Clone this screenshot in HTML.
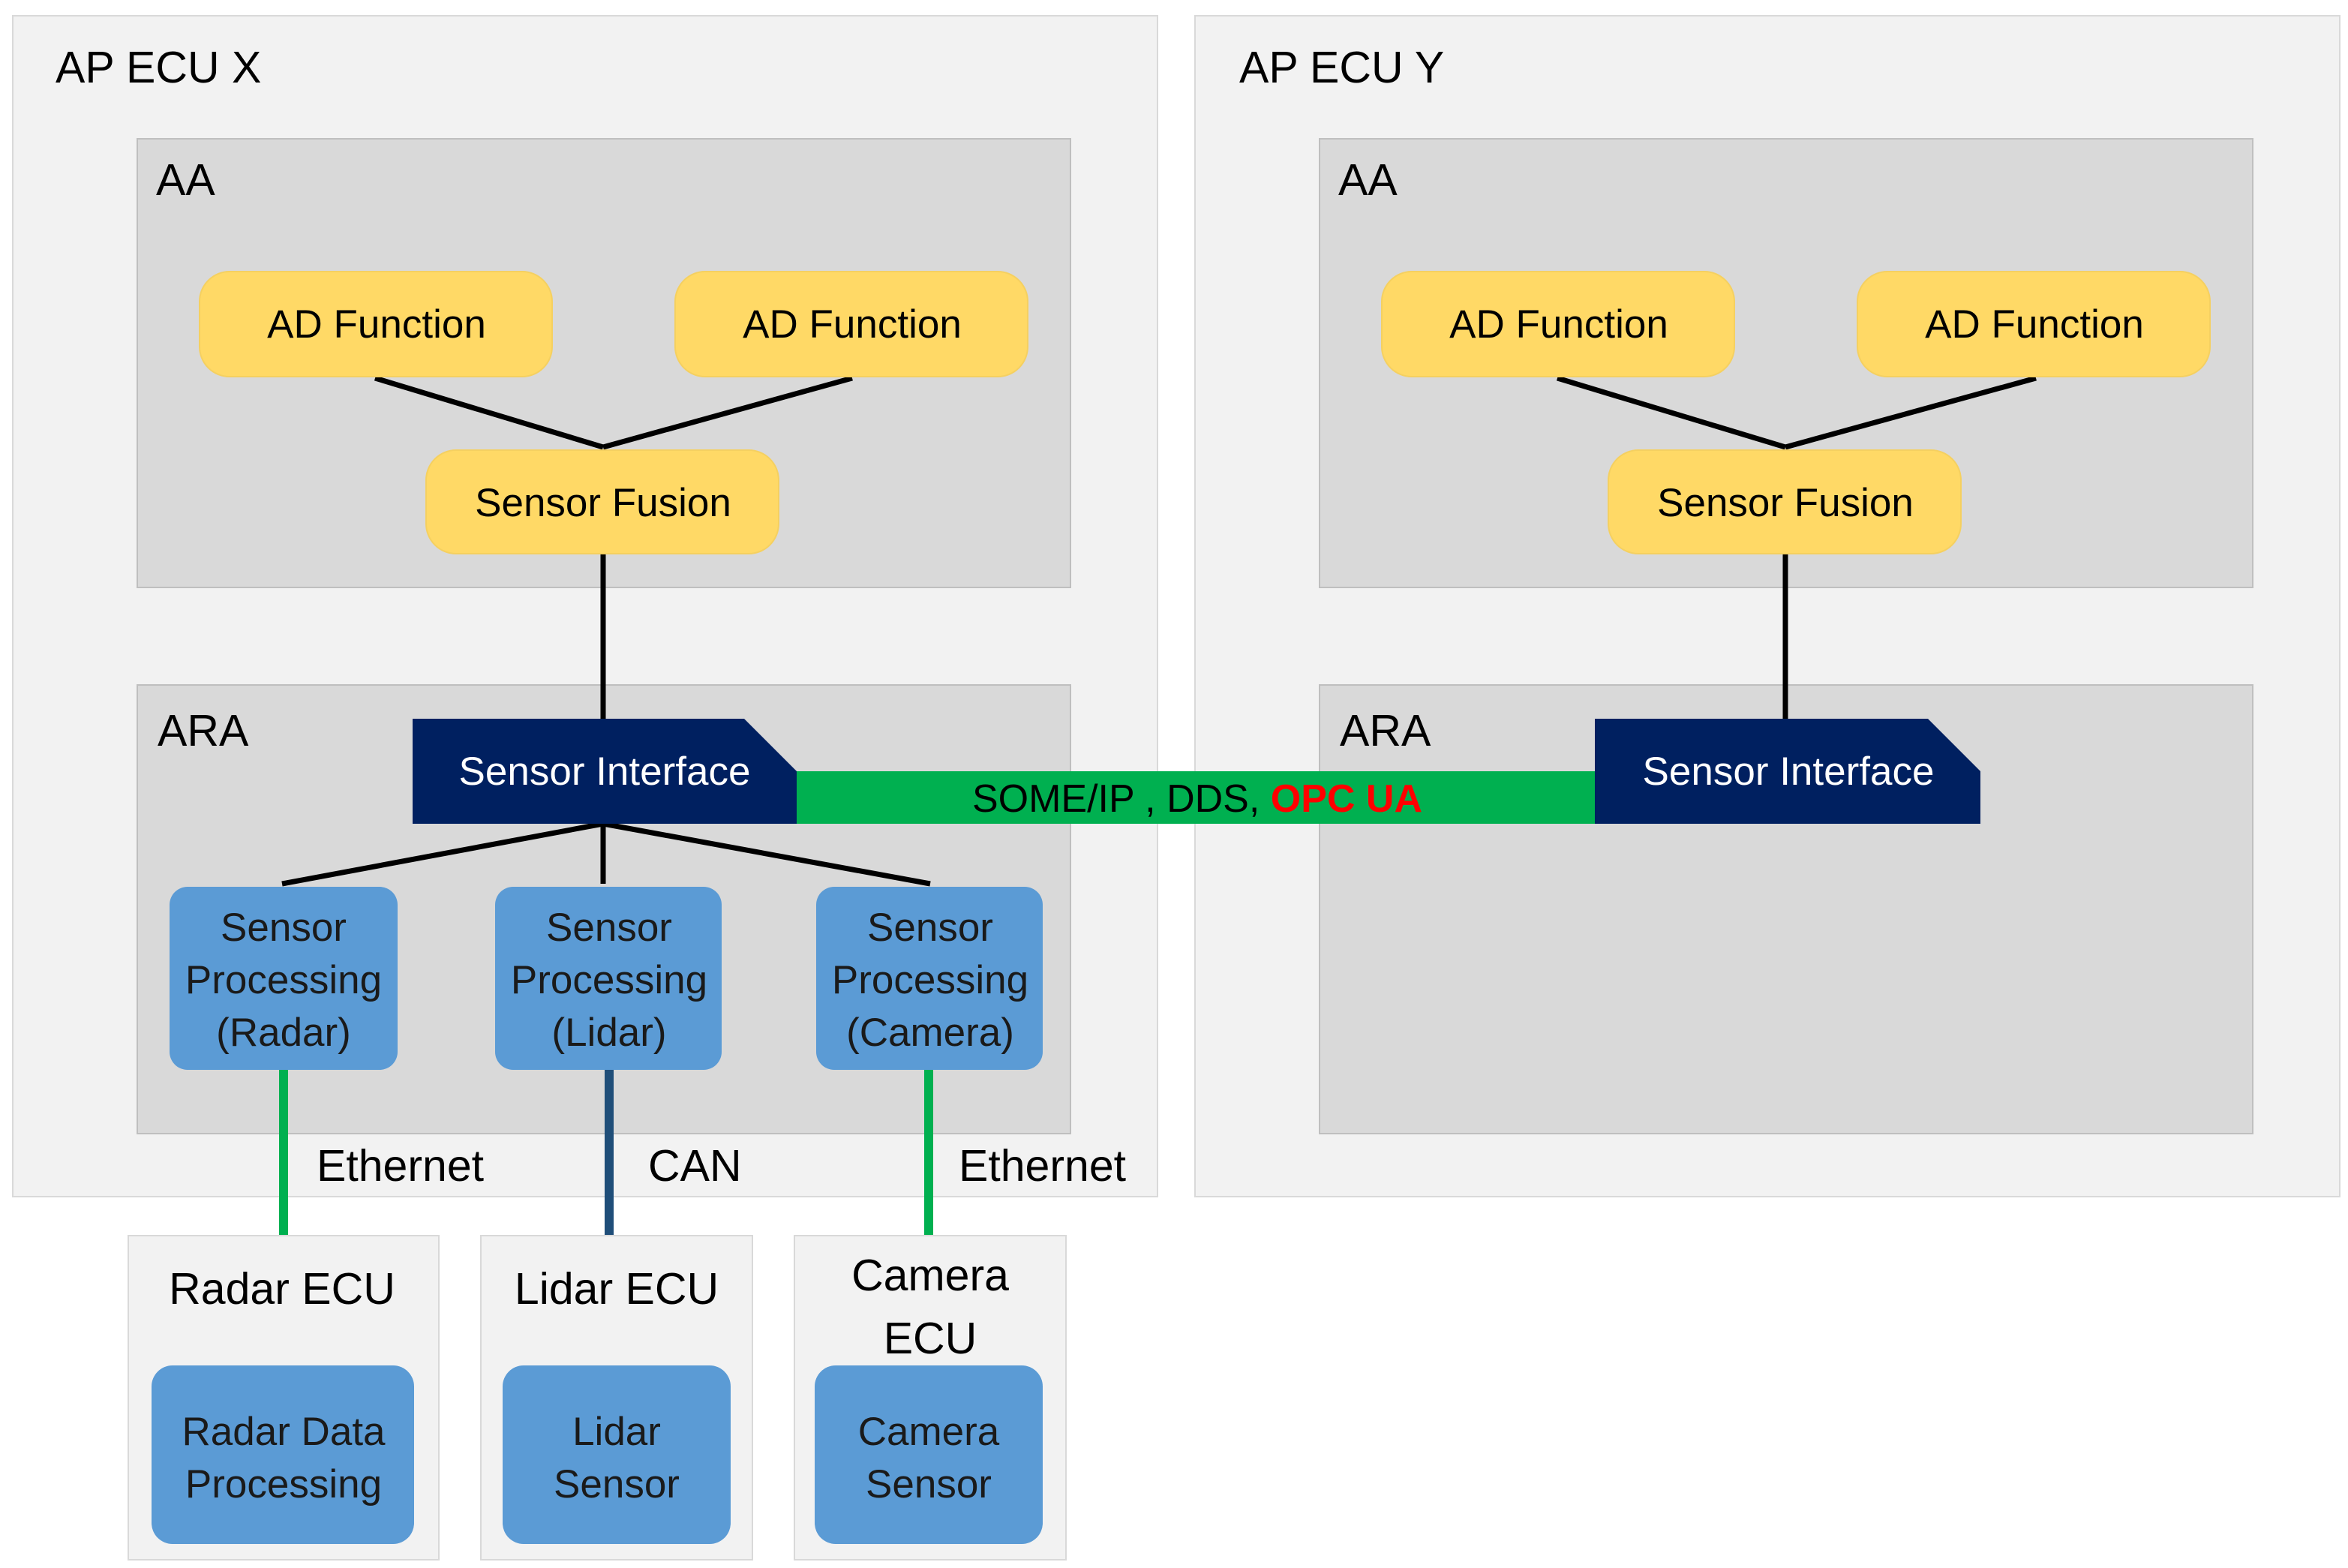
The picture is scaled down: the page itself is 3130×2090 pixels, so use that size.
<!DOCTYPE html>
<html><head><meta charset="utf-8"><style>
html,body{margin:0;padding:0;background:#fff;}
svg{display:block;}
text{font-family:"Liberation Sans",sans-serif;}
</style></head><body>
<svg width="3130" height="2090" viewBox="0 0 1565 1045" xmlns="http://www.w3.org/2000/svg">
<rect x="0" y="0" width="1565" height="1045" fill="#fff"/>
<rect x="8.5" y="10.5" width="763" height="787" fill="#f2f2f2" stroke="#d9d9d9"/>
<rect x="796.5" y="10.5" width="763" height="787" fill="#f2f2f2" stroke="#d9d9d9"/>
<text x="37" y="55" font-size="29.5" fill="#000">AP ECU X</text>
<text x="826" y="55" font-size="29.5" fill="#000">AP ECU Y</text>
<rect x="91.5" y="92.5" width="622" height="299" fill="#d9d9d9" stroke="#bfbfbf"/>
<rect x="91.5" y="456.5" width="622" height="299" fill="#d9d9d9" stroke="#bfbfbf"/>
<rect x="879.5" y="92.5" width="622" height="299" fill="#d9d9d9" stroke="#bfbfbf"/>
<rect x="879.5" y="456.5" width="622" height="299" fill="#d9d9d9" stroke="#bfbfbf"/>
<g font-size="29.5" fill="#000">
<text x="104" y="130">AA</text><text x="105" y="497">ARA</text>
<text x="892" y="130">AA</text><text x="893" y="497">ARA</text>
</g>
<g stroke="#000" stroke-width="3.5" fill="none">
<line x1="250" y1="252" x2="402" y2="298"/><line x1="568" y1="252" x2="402" y2="298"/>
<line x1="402" y1="369" x2="402" y2="479"/>
<line x1="1038" y1="252" x2="1190" y2="298"/><line x1="1357" y1="252" x2="1190" y2="298"/>
<line x1="1190" y1="369" x2="1190" y2="479"/>
<line x1="402" y1="549" x2="188" y2="589"/><line x1="402" y1="549" x2="402" y2="589"/><line x1="402" y1="549" x2="620" y2="589"/>
</g>
<g fill="#ffd966" stroke="#f5d060">
<rect x="133" y="181" width="235" height="70" rx="20"/>
<rect x="450" y="181" width="235" height="70" rx="20"/>
<rect x="284" y="300" width="235" height="69" rx="20"/>
<rect x="921" y="181" width="235" height="70" rx="20"/>
<rect x="1238" y="181" width="235" height="70" rx="20"/>
<rect x="1072" y="300" width="235" height="69" rx="20"/>
</g>
<g font-size="26.5" fill="#000" text-anchor="middle">
<text x="251" y="225">AD Function</text><text x="568" y="225">AD Function</text>
<text x="402" y="344">Sensor Fusion</text>
<text x="1039" y="225">AD Function</text><text x="1356" y="225">AD Function</text>
<text x="1190" y="344">Sensor Fusion</text>
</g>
<rect x="531" y="514" width="532" height="35" fill="#00b050"/>
<text x="798" y="541" font-size="26" text-anchor="middle" fill="#000">SOME/IP , DDS, <tspan fill="#ff0000" font-weight="bold">OPC UA</tspan></text>
<polygon points="275,479 496,479 531,514 531,549 275,549" fill="#002060"/>
<polygon points="1063,479 1285,479 1320,514 1320,549 1063,549" fill="#002060"/>
<g font-size="26.5" fill="#fff" text-anchor="middle">
<text x="403" y="523">Sensor Interface</text><text x="1192" y="523">Sensor Interface</text>
</g>
<line x1="189" y1="713" x2="189" y2="828" stroke="#00b050" stroke-width="6"/>
<line x1="406" y1="713" x2="406" y2="828" stroke="#1f4e79" stroke-width="6"/>
<line x1="619" y1="713" x2="619" y2="828" stroke="#00b050" stroke-width="6"/>
<g font-size="29.5" fill="#000">
<text x="211" y="787">Ethernet</text><text x="432" y="787">CAN</text><text x="639" y="787">Ethernet</text>
</g>
<g fill="#5b9bd5">
<rect x="113" y="591" width="152" height="122" rx="12"/>
<rect x="330" y="591" width="151" height="122" rx="12"/>
<rect x="544" y="591" width="151" height="122" rx="12"/>
</g>
<g font-size="26.5" fill="#1a1a1a" text-anchor="middle">
<text x="189" y="627">Sensor</text><text x="189" y="662">Processing</text><text x="189" y="697">(Radar)</text>
<text x="406" y="627">Sensor</text><text x="406" y="662">Processing</text><text x="406" y="697">(Lidar)</text>
<text x="620" y="627">Sensor</text><text x="620" y="662">Processing</text><text x="620" y="697">(Camera)</text>
</g>
<g fill="#f2f2f2" stroke="#d9d9d9">
<rect x="85.5" y="823.5" width="207" height="216"/>
<rect x="320.5" y="823.5" width="181" height="216"/>
<rect x="529.5" y="823.5" width="181" height="216"/>
</g>
<g font-size="29.5" fill="#000" text-anchor="middle">
<text x="188" y="869">Radar ECU</text><text x="411" y="869">Lidar ECU</text>
<text x="620" y="860">Camera</text><text x="620" y="902">ECU</text>
</g>
<g fill="#5b9bd5">
<rect x="101" y="910" width="175" height="119" rx="14"/>
<rect x="335" y="910" width="152" height="119" rx="14"/>
<rect x="543" y="910" width="152" height="119" rx="14"/>
</g>
<g font-size="26.5" fill="#1a1a1a" text-anchor="middle">
<text x="189" y="963">Radar Data</text><text x="189" y="998">Processing</text>
<text x="411" y="963">Lidar</text><text x="411" y="998">Sensor</text>
<text x="619" y="963">Camera</text><text x="619" y="998">Sensor</text>
</g>
</svg>
</body></html>
